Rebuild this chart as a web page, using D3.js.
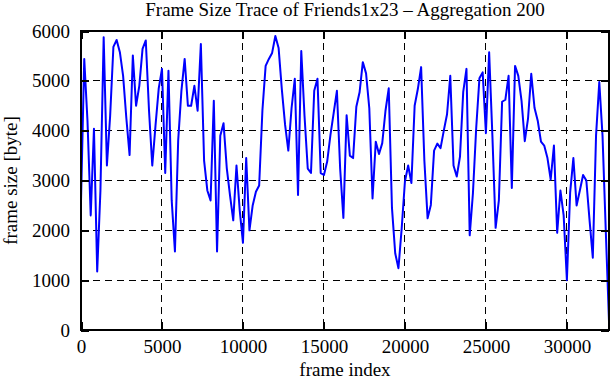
<!DOCTYPE html>
<html>
<head>
<meta charset="utf-8">
<script src="https://cdn.jsdelivr.net/npm/d3@7"></script>
<style>
  body { margin: 0; background: #fff; }
  svg { display: block; }
  text { font-family: "Liberation Serif", "Times New Roman", serif; fill: #000; }
</style>
</head>
<body>
<div id="chart"></div>
<script>
// frame size trace, one value every 200 frames (aggregation 200)
var FRAME_STEP = 200;
var frameSizes = [
  2575, 5440, 4200, 2300, 4040, 1175, 2800, 5875, 3300, 4300,
  5680, 5820, 5575, 5100, 4250, 3510, 5510, 4500, 4900, 5640,
  5810, 4400, 3300, 4100, 4850, 5240, 3150, 5200, 2600, 1575,
  3800, 4800, 5440, 4500, 4500, 4900, 4400, 5740, 3400, 2800,
  2600, 4600, 1575, 3900, 4150, 3250, 2700, 2200, 3300, 2400,
  1750, 3450, 2000, 2500, 2775, 2900, 4400, 5300, 5440, 5560,
  5900, 5660, 4830, 4120, 3600, 4450, 5040, 2710, 5600, 4300,
  3240, 3150, 4800, 5040, 3150, 3110, 3380, 3910, 4350, 4800,
  3240, 2250, 4310, 3500, 3450, 4480, 4770, 5375, 5150, 4450,
  2640, 3780, 3530, 3750, 4400, 4850, 2450, 1540, 1240, 2040,
  2980, 3300, 2950, 4500, 4840, 5275, 3400, 2240, 2510, 3600,
  3740, 3650, 4000, 4330, 5100, 3300, 3080, 3480, 4780, 5240,
  1900, 2750, 4050, 5050, 5170, 3950, 5575, 3900, 2050, 2600,
  4580, 4620, 5100, 2850, 5300, 5100, 4600, 3790, 4240, 5140,
  4460, 4200, 3780, 3700, 3450, 3020, 3700, 1950, 2800, 2300,
  1000, 2750, 3450, 2500, 2800, 3110, 3000, 2200, 1450, 3900,
  4975, 3900, 2000, 175
];
var xTicks = [0, 5000, 10000, 15000, 20000, 25000, 30000];
var yTicks = [0, 1000, 2000, 3000, 4000, 5000, 6000];
var xMax = (frameSizes.length - 1) * FRAME_STEP;

var WIDTH = 611;
var HEIGHT = 380;
var margin = {top: 31, right: 2, bottom: 50, left: 81};
var plotW = WIDTH - margin.left - margin.right;
var plotH = HEIGHT - margin.top - margin.bottom;
var TICK = 8;

var trace = frameSizes.map(function(v, i) {
  return {frame: i * FRAME_STEP, size: v};
});

var x = d3.scaleLinear().domain([0, xMax]).range([0, plotW]);
var y = d3.scaleLinear().domain([0, 6000]).range([plotH, 0]);

var svg = d3.select('#chart')
  .append('svg')
  .attr('width', WIDTH)
  .attr('height', HEIGHT)
;

var g = svg.append('g')
  .attr('transform', 'translate(' + margin.left + ',' + margin.top + ')');

// dashed grid
g.append('g').selectAll('line.vgrid')
  .data(xTicks.slice(1))
  .enter().append('line')
    .attr('x1', x).attr('x2', x)
    .attr('y1', 0).attr('y2', plotH)
;
g.append('g').selectAll('line.hgrid')
  .data(yTicks.slice(1, -1))
  .enter().append('line')
    .attr('x1', 0).attr('x2', plotW)
    .attr('y1', y).attr('y2', y)
;
g.selectAll('line')
  .attr('stroke', '#000')
  .attr('stroke-width', 1)
  .attr('stroke-dasharray', '7,5')
  .attr('shape-rendering', 'crispEdges')
;

// the trace
g.append('path')
  .datum(trace)
  .attr('fill', 'none')
  .attr('stroke', '#0000ff')
  .attr('stroke-width', 2)
  .attr('stroke-linejoin', 'round')
  .attr('d', d3.line()
    .x(function(d) { return x(d.frame); })
    .y(function(d) { return y(d.size); }))
;

// axes with inward ticks on all four sides
function styleAxis(sel) {
  sel.select('.domain').remove();
  sel.selectAll('.tick line')
    .attr('stroke', '#000')
    .attr('stroke-width', 2)
    .attr('shape-rendering', 'crispEdges');
  sel.selectAll('.tick text')
    .style('font-family', '"Liberation Serif", "Times New Roman", serif')
    .style('font-size', '19px')
    .attr('fill', '#000');
}

var fmt = d3.format('d');

g.append('g')
  .attr('transform', 'translate(0,' + plotH + ')')
  .call(d3.axisBottom(x).tickValues(xTicks).tickSize(-TICK).tickPadding(10).tickFormat(fmt))
  .call(styleAxis)
;
g.append('g')
  .call(d3.axisTop(x).tickValues(xTicks).tickSize(-TICK).tickFormat(''))
  .call(styleAxis)
;
g.append('g')
  .call(d3.axisLeft(y).tickValues(yTicks).tickSize(-TICK).tickPadding(11).tickFormat(fmt))
  .call(styleAxis)
;
g.append('g')
  .attr('transform', 'translate(' + plotW + ',0)')
  .call(d3.axisRight(y).tickValues(yTicks).tickSize(-TICK).tickFormat(''))
  .call(styleAxis)
;

// border
g.append('rect')
  .attr('width', plotW)
  .attr('height', plotH)
  .attr('fill', 'none')
  .attr('stroke', '#000')
  .attr('stroke-width', 2)
  .attr('shape-rendering', 'crispEdges')
;

// texts
svg.append('text')
  .attr('x', margin.left + plotW / 2)
  .attr('y', 16)
  .attr('text-anchor', 'middle')
  .style('font-size', '19px')
  .text('Frame Size Trace of Friends1x23 \u2013 Aggregation 200')
;
svg.append('text')
  .attr('x', margin.left + plotW / 2)
  .attr('y', 376)
  .attr('text-anchor', 'middle')
  .style('font-size', '19px')
  .text('frame index')
;
svg.append('text')
  .attr('transform', 'translate(17,' + (margin.top + plotH / 2) + ') rotate(-90)')
  .attr('text-anchor', 'middle')
  .style('font-size', '19px')
  .text('frame size [byte]')
;
</script>
</body>
</html>
